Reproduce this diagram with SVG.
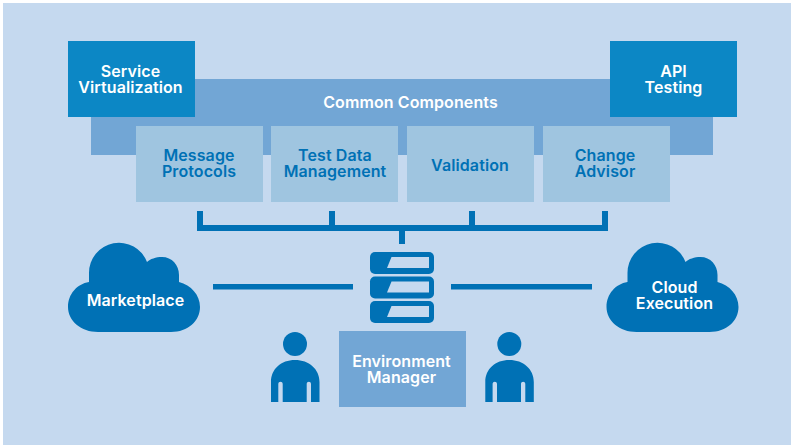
<svg xmlns="http://www.w3.org/2000/svg" width="791" height="445" viewBox="0 0 791 445">
<style>
text{font-family:"Inter","Liberation Sans",sans-serif;font-size:16px;font-weight:600;letter-spacing:.1px;text-anchor:middle}
.w{fill:#fff}.d{fill:#0071b5}
.top{fill:#0c87c5}.mid{fill:#72a6d5}.sub{fill:#9fc5e0}
.ln{fill:#0071b5}.slot{fill:#c5d9ef}
</style>
<defs>
<path id="cloud" d="M98 332C81 332 68 321 68 307C68 294 77 284 89 282V273A30 30 0 0 1 147 262C150 259 156 257 162 257C172 257 179 265 179 275V282C191 285 200 295 200 307C200 321 188 332 171 332Z"/>
<path id="person" d="M271 402V382C271 369 281 360 295 360C309 360 319.500 369 319.500 382V402H311V384C311 381 306.700 381 306.700 384V402H282.700V384C282.700 381 278.300 381 278.300 384V402Z"/>
<g id="srv"><rect x="370" y="0" width="64" height="22" rx="5" class="ln"/><path d="M391.500 5H429V16H387Z" class="slot"/></g>
</defs>
<rect id="bg" x="3" y="3" width="788" height="442" fill="#c5d9ef"/>
<g id="common"><path class="mid" d="M195 79H610V117H713V155H91V117H195Z"/><text class="w" x="410.500" y="107.500">Common Components</text></g>
<g id="service"><rect class="top" x="68" y="41" width="127" height="76"/><text class="w"><tspan x="130.500" y="76.500">Service</tspan><tspan x="130.500" y="92.500">Virtualization</tspan></text></g>
<g id="api"><rect class="top" x="610" y="41" width="127" height="76"/><text class="w"><tspan x="673.500" y="76.500">API</tspan><tspan x="673.500" y="92.500">Testing</tspan></text></g>
<g id="message"><rect class="sub" x="136" y="126" width="127" height="76"/><text class="d"><tspan x="199" y="160.500">Message</tspan><tspan x="199" y="176.500">Protocols</tspan></text></g>
<g id="testdata"><rect class="sub" x="271" y="126" width="127" height="76"/><text class="d"><tspan x="335" y="160.500">Test Data</tspan><tspan x="335" y="176.500">Management</tspan></text></g>
<g id="validation"><rect class="sub" x="407" y="126" width="127" height="76"/><text class="d" x="470" y="170.500">Validation</text></g>
<g id="change"><rect class="sub" x="543" y="126" width="127" height="76"/><text class="d"><tspan x="605" y="160.500">Change</tspan><tspan x="605" y="176.500">Advisor</tspan></text></g>
<g id="connectors" class="ln">
<path d="M197 211H203V225H329V211H335V225H469V211H475V225H602V211H608V231H405V244H399V231H197Z"/>
<rect x="213" y="284" width="140" height="5.500"/>
<rect x="451" y="284" width="141" height="5.500"/>
</g>
<g id="servers"><use href="#srv" y="252"/><use href="#srv" y="276.500"/><use href="#srv" y="301"/></g>
<g id="marketplace"><use href="#cloud" class="d"/><text class="w" x="135.500" y="305.500">Marketplace</text></g>
<g id="cloud-execution"><use href="#cloud" class="d" x="538.500"/><text class="w"><tspan x="674.500" y="292.500">Cloud</tspan><tspan x="674.500" y="308.500">Execution</tspan></text></g>
<g id="person-left" class="d"><circle cx="295" cy="344" r="12"/><use href="#person"/></g>
<g id="person-right" class="d"><circle cx="509.300" cy="344" r="12"/><use href="#person" x="214.300"/></g>
<g id="environment"><rect class="mid" x="339" y="331" width="127" height="76"/><text class="w"><tspan x="401.500" y="366.500">Environment</tspan><tspan x="401.500" y="382.500">Manager</tspan></text></g>
</svg>
